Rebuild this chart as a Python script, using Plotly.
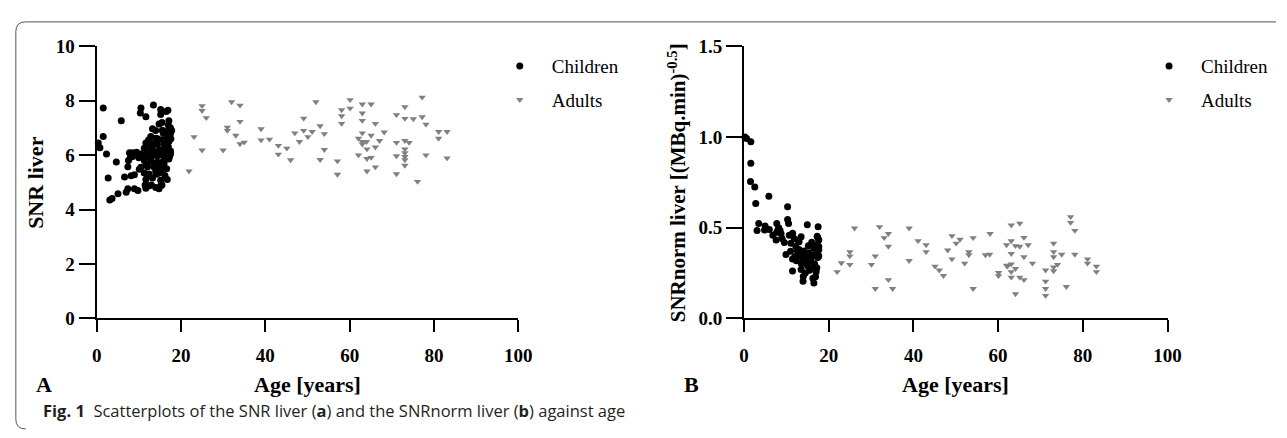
import plotly.graph_objects as go

# ---------------- data ----------------
# Panel A : SNR liver vs age
children_age_a = [1.56, 5.84, 1.56, 0.39, 0.78, 2.34, 4.67, 2.73, 3.12, 3.66, 5.06, 7.01, 7.40, 8.96,
                  6.62, 8.18, 8.96, 10.51, 7.40, 7.55, 7.79, 8.57, 8.02, 10.51, 10.36, 11.68, 13.47,
                  15.19, 16.90, 15.19, 17.13, 14.80, 13.24, 15.58, 16.75, 17.52, 12.85, 14.02, 15.58,
                  17.13, 11.68, 12.85, 14.41, 11.29, 12.46, 13.63, 15.19, 16.36, 17.52, 10.51, 11.68,
                  13.24, 14.41, 15.97, 17.52, 11.29, 12.85, 14.41, 15.81, 17.13, 12.07, 13.63, 15.19,
                  10.12, 11.29, 12.46, 14.02, 14.80, 13.24, 11.68, 15.19, 16.75, 12.46, 14.02, 15.19,
                  14.80, 11.68,
                  13.0, 14.5, 16.0, 17.5, 16.5, 17.0, 15.5, 14.0, 12.0, 13.5, 14.5, 16.0, 17.0, 17.6,
                  16.5, 15.0, 13.8, 12.5, 11.0, 11.8, 14.2, 16.2, 15.5, 13.0, 12.0, 9.5, 10.0, 8.5,
                  16.8, 17.3, 15.8, 14.8, 13.2, 12.3, 16.1, 17.8, 15.3, 16.6, 11.5, 9.8]
children_snr = [7.73, 7.26, 6.68, 6.44, 6.27, 6.04, 5.75, 5.16, 4.35, 4.41, 4.58, 4.64, 4.76, 4.76,
                5.20, 5.24, 5.28, 5.55, 5.57, 5.80, 6.09, 6.09, 5.92, 7.73, 7.55, 7.41, 7.84,
                7.67, 7.65, 7.49, 7.26, 7.14, 6.97, 6.91, 6.88, 6.79, 6.68, 6.62, 6.56,
                6.50, 6.44, 6.39, 6.39, 6.25, 6.21, 6.15, 6.17, 6.21, 6.15, 6.04, 5.98,
                5.98, 5.98, 5.98, 6.04, 5.80, 5.80, 5.75, 5.78, 5.86, 5.57, 5.55, 5.59,
                5.48, 5.34, 5.31, 5.40, 5.34, 5.16, 5.10, 5.08, 5.10, 4.87, 4.81, 4.87,
                4.76, 4.78,
                6.30, 6.60, 6.40, 7.00, 7.60, 7.10, 7.20, 6.90, 6.10, 5.70, 5.60, 5.70, 6.30, 6.60,
                6.00, 6.20, 6.45, 5.95, 6.00, 5.65, 5.30, 5.25, 4.90, 4.90, 5.30, 6.10, 5.90, 5.95,
                6.75, 5.95, 6.80, 6.00, 6.20, 6.55, 6.55, 6.90, 5.45, 5.50, 4.90, 4.70]

adults_age_a = [21.9, 23.1, 25.0, 25.0, 26.0, 25.0, 30.0, 31.0, 31.0, 32.0, 34.0, 34.0, 33.0, 34.0,
                35.0, 39.0, 39.0, 41.0, 43.1, 43.1, 45.1, 46.0, 47.0, 48.1, 49.1, 49.1, 50.1, 51.1,
                52.0, 53.0, 54.0, 54.0, 53.0, 57.1, 57.1, 58.1, 58.1, 58.1, 60.1, 60.1, 63.0, 65.1,
                63.0, 63.0, 66.1, 63.0, 62.1, 63.0, 64.0, 63.0, 65.1, 64.1, 62.1, 65.1, 64.1, 66.1,
                67.1, 68.2, 66.1, 64.1, 71.1, 73.1, 73.1, 75.1, 77.2, 77.2, 78.1, 71.1, 73.1, 74.1,
                73.1, 73.1, 73.1, 73.1, 71.1, 73.1, 71.1, 76.1, 78.1, 81.1, 83.1, 81.1, 83.1]
adults_snr = [5.41, 6.67, 7.81, 7.63, 7.37, 6.18, 6.18, 7.02, 6.90, 7.95, 7.83, 7.23, 6.72, 6.41,
              6.47, 6.96, 6.55, 6.58, 6.35, 6.03, 6.25, 5.82, 6.81, 6.49, 7.35, 6.90, 6.67, 6.86,
              7.95, 7.07, 6.78, 6.20, 5.83, 5.78, 5.29, 7.66, 7.44, 7.16, 8.03, 7.72, 7.87, 7.87,
              7.54, 7.27, 7.16, 6.81, 6.61, 6.49, 6.49, 6.40, 6.72, 6.22, 6.00, 5.91, 5.87, 6.29,
              6.53, 6.84, 5.56, 5.41, 7.48, 7.77, 7.34, 7.33, 8.12, 7.40, 7.13, 6.46, 6.53, 6.46,
              6.22, 6.08, 5.94, 5.82, 5.97, 5.62, 5.31, 5.03, 6.00, 6.86, 6.86, 6.61, 5.89]

# Panel B : SNRnorm liver vs age
children_age_b = [0.23, 0.62, 1.63, 1.63, 1.55, 2.56, 5.89, 2.79, 10.31, 10.31, 10.54, 3.49, 3.10, 4.88,
                  7.75, 14.96, 17.52, 6.82, 7.98, 8.76, 7.60, 9.53, 10.70, 11.86, 13.02, 11.09, 12.25,
                  17.29, 17.67, 17.29, 16.51, 17.67, 12.64, 14.19, 15.35, 9.92, 11.47, 13.02, 14.57,
                  16.12, 17.67, 11.47, 13.95, 14.0, 16.51, 16.28, 15.50, 17.05, 12.40, 13.57, 14.73,
                  16.67, 17.44, 13.18, 14.34, 15.50, 16.67, 12.79, 17.44, 17.67, 7.75, 8.53,
                  16.0, 15.0, 14.5, 13.5, 16.9, 17.2, 12.0, 15.8, 14.0, 13.0, 11.0, 15.2, 16.0, 12.8,
                  9.0, 8.2, 6.0, 5.0, 11.5, 13.5]
children_snrnorm = [1.000, 0.991, 0.974, 0.855, 0.755, 0.724, 0.673, 0.633, 0.615, 0.545, 0.523, 0.523,
                    0.484, 0.488, 0.523, 0.516, 0.505, 0.458, 0.484, 0.467, 0.432, 0.418, 0.458, 0.440,
                    0.423, 0.414, 0.397, 0.453, 0.432, 0.406, 0.388, 0.379, 0.371, 0.371, 0.362, 0.353,
                    0.327, 0.344, 0.336, 0.344, 0.344, 0.262, 0.205, 0.231, 0.196, 0.222, 0.266, 0.257,
                    0.318, 0.301, 0.318, 0.301, 0.336, 0.353, 0.362, 0.353, 0.353, 0.371, 0.444, 0.397,
                    0.475, 0.484,
                    0.28, 0.29, 0.25, 0.27, 0.23, 0.28, 0.34, 0.32, 0.33, 0.38, 0.37, 0.40, 0.42, 0.43,
                    0.44, 0.50, 0.49, 0.51, 0.47, 0.45]

adults_age_b = [26.1, 32.0, 33.1, 34.1, 34.1, 39.0, 41.1, 43.0, 43.0, 25.0, 25.0, 23.0, 22.0, 25.0,
                30.1, 31.0, 34.1, 31.0, 35.1, 39.0, 45.1, 46.1, 47.1, 48.1, 49.1, 49.1, 50.1, 51.0,
                52.1, 53.1, 53.1, 54.1, 54.1, 57.0, 58.0, 58.1, 60.1, 60.1, 62.2, 63.1, 65.1, 63.1,
                62.0, 64.1, 65.1, 63.1, 66.1, 67.1, 66.1, 68.1, 62.0, 63.1, 64.1, 63.1, 63.1, 65.1,
                66.1, 64.1, 71.2, 71.2, 71.2, 71.2, 73.1, 73.1, 73.1, 73.1, 73.1, 74.0, 75.0, 76.1,
                77.1, 77.1, 78.1, 78.1, 81.1, 81.1, 83.2, 83.2]
adults_snrnorm = [0.497, 0.505, 0.444, 0.467, 0.397, 0.497, 0.428, 0.405, 0.367, 0.367, 0.344, 0.306,
                  0.257, 0.297, 0.297, 0.344, 0.213, 0.164, 0.164, 0.318, 0.287, 0.266, 0.236, 0.376,
                  0.455, 0.327, 0.414, 0.435, 0.304, 0.367, 0.350, 0.444, 0.164, 0.350, 0.353, 0.467,
                  0.252, 0.235, 0.287, 0.514, 0.524, 0.427, 0.405, 0.400, 0.397, 0.357, 0.446, 0.405,
                  0.339, 0.304, 0.292, 0.300, 0.274, 0.257, 0.227, 0.227, 0.213, 0.135, 0.266, 0.205,
                  0.164, 0.126, 0.414, 0.367, 0.339, 0.283, 0.262, 0.297, 0.353, 0.175, 0.560, 0.528,
                  0.484, 0.353, 0.327, 0.304, 0.287, 0.257]

x_ticks = [0, 20, 40, 60, 80, 100]
y_ticks_a = [0, 2, 4, 6, 8, 10]
y_ticks_b = [0.0, 0.5, 1.0, 1.5]
y_ticktext_b = ["0.0", "0.5", "1.0", "1.5"]

# ---------------- layout helpers ----------------
W, H = 1287, 438
def px(x):
    return x / W
def py(y):
    return 1 - y / H

SERIF = "Liberation Serif, Times New Roman, serif"
CHILD = dict(symbol="circle", size=7, color="black", line=dict(width=0))
ADULT = dict(symbol="triangle-down", size=6.5, color="#808080", line=dict(width=0))

fig = go.Figure()
fig.add_trace(go.Scatter(x=children_age_a, y=children_snr, mode="markers", name="Children",
                         marker=CHILD, xaxis="x", yaxis="y", legend="legend", cliponaxis=False,
                         legendgroup="c1"))
fig.add_trace(go.Scatter(x=adults_age_a, y=adults_snr, mode="markers", name="Adults",
                         marker=ADULT, xaxis="x", yaxis="y", legend="legend", cliponaxis=False,
                         legendgroup="a1"))
fig.add_trace(go.Scatter(x=children_age_b, y=children_snrnorm, mode="markers", name="Children",
                         marker=CHILD, xaxis="x2", yaxis="y2", legend="legend2", cliponaxis=False,
                         legendgroup="c2"))
fig.add_trace(go.Scatter(x=adults_age_b, y=adults_snrnorm, mode="markers", name="Adults",
                         marker=ADULT, xaxis="x2", yaxis="y2", legend="legend2", cliponaxis=False,
                         legendgroup="a2"))

axis_common = dict(showline=True, linecolor="black", linewidth=2, ticks="outside",
                   tickcolor="black", tickwidth=2, showgrid=False, zeroline=False,
                   tickfont=dict(family=SERIF, size=19, color="black", weight="bold"))
x_extra = dict(range=[0, 100], tickvals=x_ticks, ticklen=12, ticklabelstandoff=7)

ydom = [py(324), py(38)]
legend_common = dict(xanchor="left", yanchor="top", bgcolor="rgba(0,0,0,0)",
                     font=dict(family=SERIF, size=19, color="black"), traceorder="grouped",
                     tracegroupgap=6, itemwidth=54)
fig.update_layout(
    width=W, height=H, margin=dict(l=0, r=0, t=0, b=0),
    paper_bgcolor="white", plot_bgcolor="white",
    xaxis=dict(domain=[px(93), px(521)], anchor="y", **x_extra, **axis_common),
    yaxis=dict(domain=ydom, range=[0, 10], tickvals=y_ticks_a, ticklen=16, anchor="x",
               **axis_common),
    xaxis2=dict(domain=[px(750), px(1180)], anchor="y2", **x_extra, **axis_common),
    yaxis2=dict(domain=ydom, range=[0, 1.5], tickvals=y_ticks_b, ticktext=y_ticktext_b,
                ticklen=16, anchor="x2", **axis_common),
    legend=dict(x=px(490), y=py(39), **legend_common),
    legend2=dict(x=px(1149), y=py(39), **legend_common),
)

ann_font_bold = dict(family=SERIF, size=22, color="black", weight="bold")
anns = [
    dict(text="SNR liver", x=px(31), y=py(181), textangle=-90, font=ann_font_bold),
    dict(text="SNRnorm liver [(MBq.min)<sup>-0.5</sup>]", x=px(682), y=py(181), textangle=-90,
         font=dict(family=SERIF, size=21, color="black", weight="bold")),
    dict(text="Age [years]", x=px(307), y=py(393), font=ann_font_bold),
    dict(text="Age [years]", x=px(965), y=py(393), font=ann_font_bold),
    dict(text="A", x=px(40), y=py(393), font=ann_font_bold),
    dict(text="B", x=px(697), y=py(393), font=ann_font_bold),
    dict(text="<b>Fig. 1</b>  Scatterplots of the SNR liver (<b>a</b>) and the SNRnorm liver (<b>b</b>) against age",
         x=px(37), y=py(421), xanchor="left",
         font=dict(family="Open Sans, Noto Sans, sans-serif", size=16.5, color="#231f20")),
]
for a in anns:
    a.setdefault("xanchor", "center")
    fig.add_annotation(xref="paper", yref="paper", yanchor="middle", showarrow=False, **a)

# rounded frame around the figure
path = (f"M {px(1290)},{py(12.5)} L {px(21)},{py(12.5)} Q {px(11)},{py(12.5)} {px(11)},{py(22.5)} "
        f"L {px(11)},{py(430)} Q {px(11)},{py(440)} {px(21)},{py(440)}")
fig.add_shape(type="path", path=path, xref="paper", yref="paper",
              line=dict(color="#555555", width=1))

fig.write_html("out.html", config={"displayModeBar": False},
               post_script="document.body.style.margin='0';document.body.style.overflow='hidden';")
